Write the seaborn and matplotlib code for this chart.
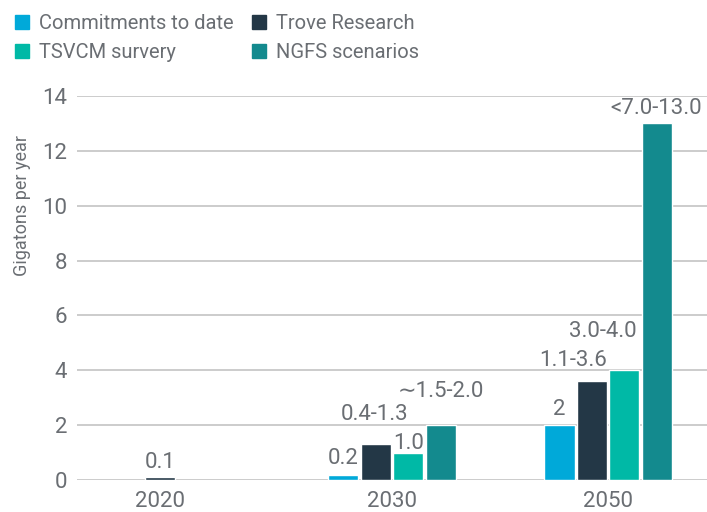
import matplotlib
matplotlib.use("Agg")
import matplotlib.pyplot as plt
import seaborn as sns
import pandas as pd
from matplotlib.lines import Line2D

# ---- data ----
years = ["2020", "2030", "2050"]
series = ["Commitments to date", "Trove Research", "TSVCM survery", "NGFS scenarios"]
commitments = [None, 0.2, 2.0]
trove = [0.1, 1.3, 3.6]
tsvcm = [None, 1.0, 4.0]
ngfs = [None, 2.0, 13.0]

commitments_labels = ["", "0.2", "2"]
trove_labels = ["0.1", "0.4-1.3", "1.1-3.6"]
tsvcm_labels = ["", "1.0", "3.0-4.0"]
ngfs_labels = ["", "\u223c1.5-2.0", "<7.0-13.0"]

y_ticks = [0, 2, 4, 6, 8, 10, 12, 14]

# ---- styles ----
colors = ["#00A9D9", "#233746", "#00B9A6", "#138A8E"]
text_color = "#6A6E73"
grid_color = "#C8C8C8"
# label offsets in pixels (dx, dy above bar top)
label_offsets = {
    "Commitments to date": [(0, 0), (0, 11), (0, 10)],
    "Trove Research": [(0, 9), (-1, 24), (-19, 15)],
    "TSVCM survery": [(0, 0), (0, 4), (-21, 33)],
    "NGFS scenarios": [(0, 0), (0, 28), (-1, 9)],
}

values = {s: v for s, v in zip(series, [commitments, trove, tsvcm, ngfs])}
labels = {s: v for s, v in zip(series, [commitments_labels, trove_labels, tsvcm_labels, ngfs_labels])}

rows = []
for s in series:
    for y, v in zip(years, values[s]):
        if v is not None:
            rows.append({"year": y, "series": s, "value": v})
df = pd.DataFrame(rows)

sns.set_theme(style="white")
plt.rcParams["font.family"] = ["Roboto", "DejaVu Sans"]

W, H = 707, 512
fig = plt.figure(figsize=(W / 100, H / 100), dpi=100)
ax = fig.add_axes([77 / W, 32 / H, 630 / W, 384 / H])

sns.barplot(data=df, x="year", y="value", hue="series", order=years,
            hue_order=series, palette=colors, width=0.6, gap=0.07,
            saturation=1, legend=False, ax=ax, errorbar=None)

ax.set_xlim(-0.458, 2.458)
ax.set_ylim(0, 14)
ax.set_yticks(y_ticks)
ax.yaxis.grid(True, color=grid_color, linewidth=1.3)
ax.set_axisbelow(True)
for sp in ax.spines.values():
    sp.set_visible(False)

pt = 72 / 100
xtick_pos = [0, 1, 2]
for cont, s in zip(ax.containers, series):
    for bar in cont:
        xc = bar.get_x() + bar.get_width() / 2
        h = bar.get_height()
        i = int(round(xc))
        if s == "Trove Research" and i == 0:
            xtick_pos[0] = xc
        txt = labels[s][i]
        if not txt:
            continue
        dx, dy = label_offsets[s][i]
        ax.annotate(txt, (xc, h), xytext=(dx * pt, dy * pt), textcoords="offset points",
                    ha="center", va="baseline", fontsize=16, color=text_color)

ax.set_xticks(xtick_pos)
ax.set_xticklabels(years)
ax.tick_params(axis="both", length=0, labelsize=16, colors=text_color)
ax.tick_params(axis="y", pad=7)
ax.tick_params(axis="x", pad=8)
ax.set_xlabel("")
ax.set_ylabel("Gigatons per year", fontsize=13, color=text_color, va="center")
ax.yaxis.set_label_coords(-0.088, 0.716)

handles = [Line2D([0], [0], marker="s", linestyle="", markersize=10,
                  markerfacecolor=c, markeredgecolor=c) for c in colors]
order = [0, 2, 1, 3]
fig.legend([handles[i] for i in order], [series[i] for i in order], ncol=2,
           loc="upper left", bbox_to_anchor=(14 / W, 1 - 14 / H), frameon=False,
           fontsize=14.5, labelcolor=text_color, handlelength=0.8, handletextpad=0.45,
           columnspacing=0.85, labelspacing=0.48, borderpad=0, borderaxespad=0)

fig.savefig("out.png", dpi=100)
